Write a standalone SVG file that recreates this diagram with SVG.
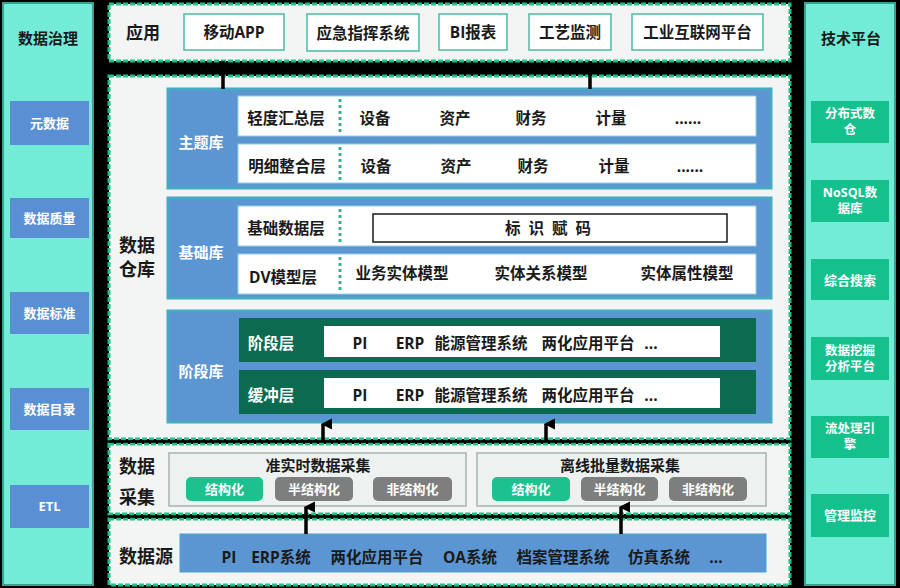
<svg xmlns="http://www.w3.org/2000/svg" width="900" height="588" viewBox="0 0 900 588">
<style>
text{font-family:"Open Sans","Noto Sans CJK SC",sans-serif;font-weight:bold;text-anchor:middle;fill:#1a1a1a}
.panel{fill:#72ECD6;stroke:#3E9E8F;stroke-width:2}
.sec{fill:#F3F4F4;stroke:#1FC08C;stroke-width:3;stroke-dasharray:5 2}
.lb{fill:#5A90D3}
.gb{fill:#14C18D}
.wt{fill:#ffffff}
.abox{fill:#ffffff;stroke:#4DBBA6;stroke-width:1.5}
.blk{fill:#5B95D2;stroke:#47A9C4;stroke-width:3}
.row{fill:#ffffff;stroke:#8FD3E0;stroke-width:1}
.drow{fill:#0B6A4F}
.sep{stroke:#1FC08C;stroke-width:3;stroke-dasharray:3 3}
.cbox{fill:#EDF2F0;stroke:#A9B2AF;stroke-width:1.5}
.gsub{fill:#1CC18E}
.ysub{fill:#7D7E7E}
.conn{stroke:#000;stroke-width:3.5;fill:none}
.s18{font-size:18px}.s17{font-size:17px}.s15{font-size:15.5px}.s15b{font-size:15px}.s13{font-size:13px}.s12{font-size:12.5px}
</style>
<defs>
<marker id="ah" viewBox="0 0 10 10" refX="5" refY="2" markerWidth="3.6" markerHeight="3.2" orient="auto-start-reverse" markerUnits="strokeWidth">
<path d="M0,10 L5,0 L10,10 Z" fill="#000"/>
</marker>
</defs>
<rect x="0" y="0" width="900" height="588" fill="#000"/>

<g id="governance">
<rect class="panel" x="3" y="3" width="90" height="582"/>
<text class="s15b" x="48" y="44">数据治理</text>
<g id="gov-meta"><rect class="lb" x="10" y="101" width="79" height="44"/><text class="s13 wt" x="49.5" y="128">元数据</text></g>
<g id="gov-quality"><rect class="lb" x="10" y="198" width="79" height="40"/><text class="s13 wt" x="49.5" y="223">数据质量</text></g>
<g id="gov-standard"><rect class="lb" x="10" y="292" width="79" height="42"/><text class="s13 wt" x="49.5" y="318">数据标准</text></g>
<g id="gov-catalog"><rect class="lb" x="10" y="388" width="79" height="42"/><text class="s13 wt" x="49.5" y="414">数据目录</text></g>
<g id="gov-etl"><rect class="lb" x="10" y="485" width="79" height="43"/><text class="s13 wt" x="49.5" y="511">ETL</text></g>
</g>

<g id="techplatform">
<rect class="panel" x="805" y="3" width="90" height="582"/>
<text class="s15b" x="851" y="44">技术平台</text>
<g id="tp-dw"><rect class="gb" x="811" y="101" width="78" height="42"/><text class="s12 wt" x="850" y="118">分布式数</text><text class="s12 wt" x="850" y="134">仓</text></g>
<g id="tp-nosql"><rect class="gb" x="811" y="180" width="78" height="42"/><text class="s12 wt" x="850" y="197">NoSQL数</text><text class="s12 wt" x="850" y="213">据库</text></g>
<g id="tp-search"><rect class="gb" x="811" y="259" width="78" height="41"/><text class="s13 wt" x="850" y="284.5">综合搜索</text></g>
<g id="tp-mining"><rect class="gb" x="811" y="337" width="78" height="43"/><text class="s12 wt" x="850" y="355">数据挖掘</text><text class="s12 wt" x="850" y="371">分析平台</text></g>
<g id="tp-stream"><rect class="gb" x="811" y="416" width="78" height="42"/><text class="s12 wt" x="850" y="433">流处理引</text><text class="s12 wt" x="850" y="449">擎</text></g>
<g id="tp-monitor"><rect class="gb" x="811" y="494" width="78" height="43"/><text class="s13 wt" x="850" y="520">管理监控</text></g>
</g>

<g id="app">
<rect class="sec" x="109" y="4" width="681" height="57"/>
<text class="s17" x="143" y="39">应用</text>
<g id="app-mobile"><rect class="abox" x="184" y="14" width="100" height="36"/><text class="s15" x="234" y="38">移动APP</text></g>
<g id="app-emergency"><rect class="abox" x="307" y="14" width="112" height="37"/><text class="s15" x="363" y="39">应急指挥系统</text></g>
<g id="app-bi"><rect class="abox" x="439" y="14" width="68" height="36"/><text class="s15" x="473" y="38">BI报表</text></g>
<g id="app-process"><rect class="abox" x="529" y="14" width="82" height="36"/><text class="s15" x="570" y="38">工艺监测</text></g>
<g id="app-iiot"><rect class="abox" x="632" y="14" width="131" height="36"/><text class="s15" x="697.5" y="38">工业互联网平台</text></g>
</g>

<g id="warehouse">
<rect class="sec" x="109" y="76" width="681" height="363"/>
<text class="s18" x="137" y="252">数据</text>
<text class="s18" x="137" y="276">仓库</text>

<g id="theme-db">
<rect class="blk" x="168" y="89" width="603" height="99"/>
<text class="s15b wt" x="201" y="148">主题库</text>
<rect class="row" x="238" y="96" width="518" height="40"/>
<rect class="row" x="238" y="144" width="518" height="39"/>
<line class="sep" x1="340" y1="99" x2="340" y2="134"/>
<line class="sep" x1="340" y1="147" x2="340" y2="181"/>
<text class="s15" x="286" y="124">轻度汇总层</text>
<text class="s15" x="375" y="124">设备</text>
<text class="s15" x="455" y="124">资产</text>
<text class="s15" x="531" y="124">财务</text>
<text class="s15" x="611" y="124">计量</text>
<text class="s15" x="688" y="124">......</text>
<text class="s15" x="287" y="172">明细整合层</text>
<text class="s15" x="376" y="172">设备</text>
<text class="s15" x="456" y="172">资产</text>
<text class="s15" x="533" y="172">财务</text>
<text class="s15" x="614" y="172">计量</text>
<text class="s15" x="690" y="172">......</text>
</g>

<g id="base-db">
<rect class="blk" x="168" y="198" width="603" height="100"/>
<text class="s15b wt" x="201" y="258">基础库</text>
<rect class="row" x="238" y="206" width="518" height="40"/>
<rect class="row" x="238" y="254" width="518" height="40"/>
<line class="sep" x1="340" y1="209" x2="340" y2="243"/>
<line class="sep" x1="340" y1="257" x2="340" y2="291"/>
<text class="s15" x="286" y="234">基础数据层</text>
<rect x="373" y="214" width="354" height="28" fill="#fff" stroke="#1a1a1a" stroke-width="1.5"/>
<text class="s15" x="552" y="234" letter-spacing="8">标识赋码</text>
<text class="s15" x="283" y="283">DV模型层</text>
<text class="s15" x="402" y="279">业务实体模型</text>
<text class="s15" x="541" y="279">实体关系模型</text>
<text class="s15" x="687" y="279">实体属性模型</text>
</g>

<g id="stage-db">
<rect class="blk" x="168" y="311" width="603" height="111"/>
<text class="s15b wt" x="201" y="377">阶段库</text>
<rect class="drow" x="239" y="318" width="517" height="44"/>
<rect class="drow" x="239" y="370" width="517" height="44"/>
<rect x="324" y="326" width="396" height="31" fill="#fff"/>
<rect x="324" y="378" width="396" height="30" fill="#fff"/>
<text class="s15 wt" x="271" y="349">阶段层</text>
<text class="s15 wt" x="271" y="401">缓冲层</text>
<text class="s15" x="360" y="349">PI</text>
<text class="s15" x="410" y="349">ERP</text>
<text class="s15" x="481" y="349">能源管理系统</text>
<text class="s15" x="588" y="349">两化应用平台</text>
<text class="s15" x="651" y="349">...</text>
<text class="s15" x="360" y="401">PI</text>
<text class="s15" x="410" y="401">ERP</text>
<text class="s15" x="481" y="401">能源管理系统</text>
<text class="s15" x="588" y="401">两化应用平台</text>
<text class="s15" x="651" y="401">...</text>
</g>
</g>

<g id="collection">
<rect class="sec" x="109" y="444" width="681" height="70"/>
<text class="s18" x="137" y="473">数据</text>
<text class="s18" x="137" y="504">采集</text>
<g id="realtime">
<rect class="cbox" x="169" y="453" width="297" height="53"/>
<text class="s15b" x="318" y="471">准实时数据采集</text>
<rect class="gsub" x="186" y="477" width="77" height="24" rx="5"/>
<text class="s13 wt" x="224.5" y="494">结构化</text>
<rect class="ysub" x="275" y="477" width="78" height="24" rx="5"/>
<text class="s13 wt" x="314" y="494">半结构化</text>
<rect class="ysub" x="373" y="477" width="79" height="24" rx="5"/>
<text class="s13 wt" x="412.5" y="494">非结构化</text>
</g>
<g id="batch">
<rect class="cbox" x="477" y="453" width="289" height="53"/>
<text class="s15b" x="620" y="471">离线批量数据采集</text>
<rect class="gsub" x="492" y="477" width="78" height="24" rx="5"/>
<text class="s13 wt" x="531" y="494">结构化</text>
<rect class="ysub" x="581" y="477" width="77" height="24" rx="5"/>
<text class="s13 wt" x="619.5" y="494">半结构化</text>
<rect class="ysub" x="669" y="477" width="78" height="24" rx="5"/>
<text class="s13 wt" x="708" y="494">非结构化</text>
</g>
</g>

<g id="source">
<rect class="sec" x="109" y="519" width="681" height="66"/>
<text class="s18" x="146" y="563">数据源</text>
<rect x="180" y="534" width="586" height="38" fill="#5B95D2" stroke="#4DA3CC" stroke-width="1"/>
<text class="s15" x="229" y="563">PI</text>
<text class="s15" x="281" y="563">ERP系统</text>
<text class="s15" x="377" y="563">两化应用平台</text>
<text class="s15" x="470" y="563">OA系统</text>
<text class="s15" x="563" y="563">档案管理系统</text>
<text class="s15" x="659" y="563">仿真系统</text>
<text class="s15" x="716" y="563">...</text>
</g>

<g id="connectors">
<line x1="109" y1="441.5" x2="790" y2="441.5" stroke="#000" stroke-width="2.5"/>
<line x1="109" y1="516.5" x2="790" y2="516.5" stroke="#000" stroke-width="2.5"/>
<line class="conn" x1="223" y1="61" x2="223" y2="89"/>
<line class="conn" x1="590" y1="61" x2="590" y2="89"/>
<line class="conn" x1="323" y1="442" x2="323" y2="424" marker-end="url(#ah)"/>
<line class="conn" x1="546" y1="442" x2="546" y2="424" marker-end="url(#ah)"/>
<line class="conn" x1="306" y1="534" x2="306" y2="507" marker-end="url(#ah)"/>
<line class="conn" x1="621" y1="534" x2="621" y2="507" marker-end="url(#ah)"/>
</g>
</svg>
